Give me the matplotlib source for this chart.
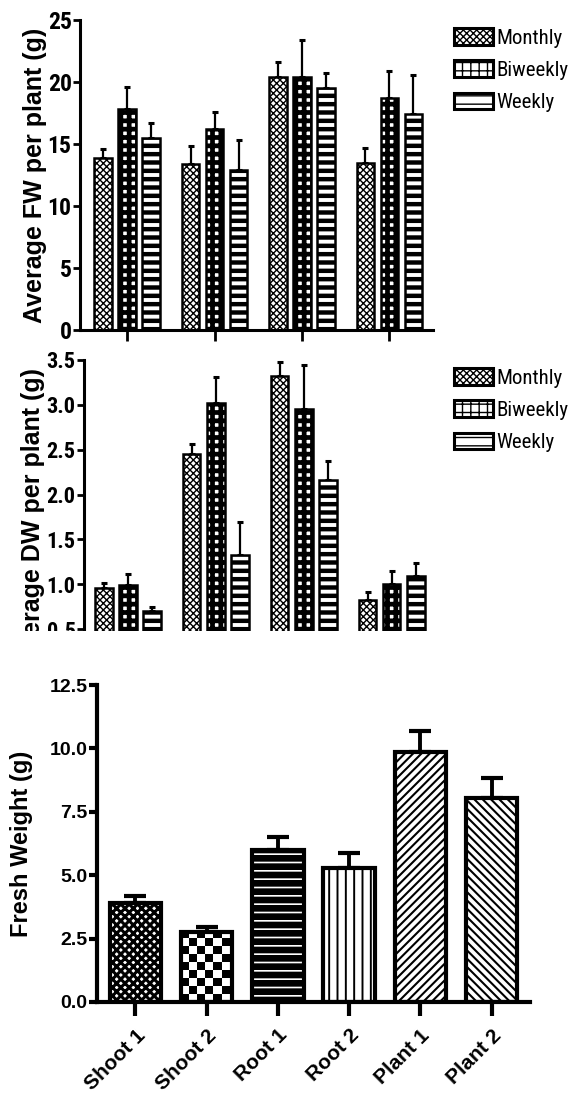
import matplotlib
matplotlib.use("Agg")
import matplotlib.pyplot as plt
import numpy as np
from matplotlib import font_manager
from matplotlib.patches import Patch, Rectangle

# top and middle panel data
groups = [1, 2, 3, 4]
series = ["Monthly", "Biweekly", "Weekly"]
fw_mean = [[13.9, 13.4, 20.4, 13.5],
           [17.8, 16.2, 20.4, 18.7],
           [15.5, 12.9, 19.5, 17.4]]
fw_err = [[0.7, 1.4, 1.2, 1.2],
          [1.8, 1.4, 3.0, 2.2],
          [1.2, 2.4, 1.2, 3.2]]
dw_mean = [[0.96, 2.45, 3.32, 0.83],
           [0.99, 3.02, 2.95, 1.00],
           [0.70, 1.33, 2.16, 1.09]]
dw_err = [[0.05, 0.11, 0.16, 0.08],
          [0.12, 0.29, 0.49, 0.15],
          [0.05, 0.36, 0.21, 0.15]]

# bottom panel data
tissues = ["Shoot 1", "Shoot 2", "Root 1", "Root 2", "Plant 1", "Plant 2"]
fresh = [3.9, 2.76, 6.0, 5.3, 9.84, 8.03]
fresh_err = [0.27, 0.19, 0.52, 0.56, 0.83, 0.79]

# look for a narrow font, the original uses an Arial Narrow look
ttf = font_manager.fontManager.ttflist
names = {f.name for f in ttf}
narrow = None
for cand in ["Liberation Sans Narrow", "Roboto Condensed", "DejaVu Sans Condensed",
             "Open Sans Condensed", "Noto Sans Condensed"]:
    if cand in names:
        narrow = dict(family=cand)
        break
if narrow is None:
    cond = [f for f in ttf if str(f.stretch) in ("condensed", "semi-condensed", "extra-condensed")
            or (isinstance(f.stretch, int) and f.stretch < 500)]
    if cond:
        narrow = dict(family=cond[0].name, stretch="condensed")
    else:
        narrow = dict(family="Liberation Sans")
bold_font = "Liberation Sans" if "Liberation Sans" in names else "DejaVu Sans"

fig = plt.figure(figsize=(5.69, 10.97), dpi=100)
H = 1097.0
W = 569.0


def axes_px(left, top, right, bottom):
    return fig.add_axes([left / W, (H - bottom) / H, (right - left) / W, (bottom - top) / H])


def hatch_lw(patch, lw):
    if hasattr(patch, "set_hatch_linewidth"):
        patch.set_hatch_linewidth(lw)


top_hatches = ["xxxxx", "++", "--"]
top_hlw = [1.0, 3.4, 3.2]


def grouped(ax, means, errs):
    x = np.arange(len(groups))
    for i in range(3):
        xs = x + (i - 1) * 0.275
        bars = ax.bar(xs, means[i], 0.2, color="white", edgecolor="black",
                      hatch=top_hatches[i], linewidth=1.8, zorder=2)
        for b in bars:
            hatch_lw(b, top_hlw[i])
        ax.errorbar(xs, means[i], yerr=[np.zeros(4), errs[i]], fmt="none",
                    ecolor="black", elinewidth=1.6, capsize=2.5, capthick=2.2, zorder=1)
    for s in ["top", "right"]:
        ax.spines[s].set_visible(False)
    for s in ["left", "bottom"]:
        ax.spines[s].set_linewidth(2.2)
    ax.tick_params(axis="y", direction="out", length=5, width=2, pad=1)
    ax.tick_params(axis="x", direction="out", length=8, width=2, labelbottom=False)
    ax.set_xticks(x)


def legend(ax, y_top):
    handles = []
    for i in range(3):
        p = Patch(facecolor="white", edgecolor="black", hatch=top_hatches[i], linewidth=2.2)
        hatch_lw(p, top_hlw[i])
        handles.append(p)
    ax.legend(handles, series, loc="upper left", bbox_to_anchor=(454 / W, (H - y_top) / H),
              bbox_transform=fig.transFigure, frameon=False, handlelength=1.85,
              handleheight=0.85, handletextpad=0.2, labelspacing=0.62, borderaxespad=0,
              borderpad=0, prop=dict(size=15, **narrow))


# top panel: FW
ax1 = axes_px(80, 20, 433, 330)
grouped(ax1, fw_mean, fw_err)
ax1.set_xlim(-0.54, 3.5)
ax1.set_ylim(0, 25)
ax1.set_yticks([0, 5, 10, 15, 20, 25])
ax1.set_yticklabels(["0", "5", "10", "15", "20", "25"], fontweight="bold", fontsize=17, **narrow)
ax1.set_ylabel("Average FW per plant (g)", fontfamily=bold_font, fontweight="bold",
               fontsize=18, va="center")
ax1.yaxis.set_label_coords((35 - 80) / 353, 0.5)
legend(ax1, 28)

# middle panel: DW (bottom of the original figure is cropped)
ax2 = axes_px(84, 360, 433, 674)
grouped(ax2, dw_mean, dw_err)
ax2.set_xlim(-0.5, 3.47)
ax2.set_ylim(0, 3.5)
ax2.tick_params(axis="x", length=0)
ax2.spines["bottom"].set_visible(False)
ax2.set_yticks([0.5, 1.0, 1.5, 2.0, 2.5, 3.0, 3.5])
ax2.set_yticklabels(["0.5", "1.0", "1.5", "2.0", "2.5", "3.0", "3.5"], fontweight="bold",
                    fontsize=16, **narrow)
ax2.set_ylabel("Average DW per plant (g)", fontfamily=bold_font, fontweight="bold",
               fontsize=18, va="center")
ax2.yaxis.set_label_coords((33 - 84) / 349, 0.5)
legend(ax2, 368)

cover = Rectangle((0, (H - 678) / H), 1, (678 - 631) / H, transform=fig.transFigure,
                  facecolor="white", edgecolor="none", zorder=10)
fig.add_artist(cover)

# bottom panel: fresh weight
ax3 = axes_px(97, 685, 530, 1002)
x3 = np.arange(len(tissues))
fills = [
    dict(facecolor="white", edgecolor="black", hatch="xxxx", hlw=2.2),
    None,
    dict(facecolor="black", edgecolor="white", hatch="--", hlw=1.2),
    dict(facecolor="white", edgecolor="black", hatch="||", hlw=1.4),
    dict(facecolor="white", edgecolor="black", hatch="////", hlw=1.5),
    dict(facecolor="white", edgecolor="black", hatch="\\\\\\\\", hlw=1.5),
]
ax3.errorbar(x3, fresh, yerr=[np.zeros(len(fresh)), fresh_err], fmt="none", ecolor="black",
             elinewidth=2.8, capsize=8, capthick=3, zorder=1)
for i in range(len(tissues)):
    f = fills[i]
    if f is None:
        b = ax3.bar(x3[i], fresh[i], 0.72, color="white", linewidth=0, zorder=2)[0]
        nx, ny = 7, int(round(fresh[i] / 0.315))
        checker = (np.add.outer(np.arange(ny), np.arange(nx)) % 2).astype(float)
        x0 = x3[i] - 0.36
        img = ax3.imshow(checker, cmap="gray", interpolation="nearest", aspect="auto",
                         extent=(x0, x0 + 0.72 / 6.4 * nx, 0, 0.315 * ny), origin="lower",
                         zorder=2.5)
        img.set_clip_path(b)
    else:
        b = ax3.bar(x3[i], fresh[i], 0.72, facecolor=f["facecolor"], edgecolor=f["edgecolor"],
                    hatch=f["hatch"], linewidth=0, zorder=2)[0]
        hatch_lw(b, f["hlw"])
ax3.bar(x3, fresh, 0.72, facecolor="none", edgecolor="black", linewidth=3, zorder=3)
ax3.set_xlim(-0.54, 5.54)
ax3.set_ylim(0, 12.5)
ax3.set_yticks([0, 2.5, 5, 7.5, 10, 12.5])
ax3.set_yticklabels(["0.0", "2.5", "5.0", "7.5", "10.0", "12.5"], fontfamily=bold_font,
                    fontweight="bold", fontsize=14)
ax3.set_xticks(x3)
ax3.set_xticklabels(tissues, rotation=45, ha="right", va="top", rotation_mode="anchor",
                    fontfamily=bold_font, fontweight="bold", fontsize=15)
for s in ["top", "right"]:
    ax3.spines[s].set_visible(False)
for s in ["left", "bottom"]:
    ax3.spines[s].set_linewidth(3)
ax3.tick_params(axis="y", direction="out", length=6, width=3, pad=1)
ax3.tick_params(axis="x", direction="out", length=10, width=3, pad=7)
ax3.set_ylabel("Fresh Weight (g)", fontfamily=bold_font, fontweight="bold", fontsize=17,
               va="center")
ax3.yaxis.set_label_coords((22 - 97) / 433, 0.5)

fig.savefig("out.png", dpi=100)
